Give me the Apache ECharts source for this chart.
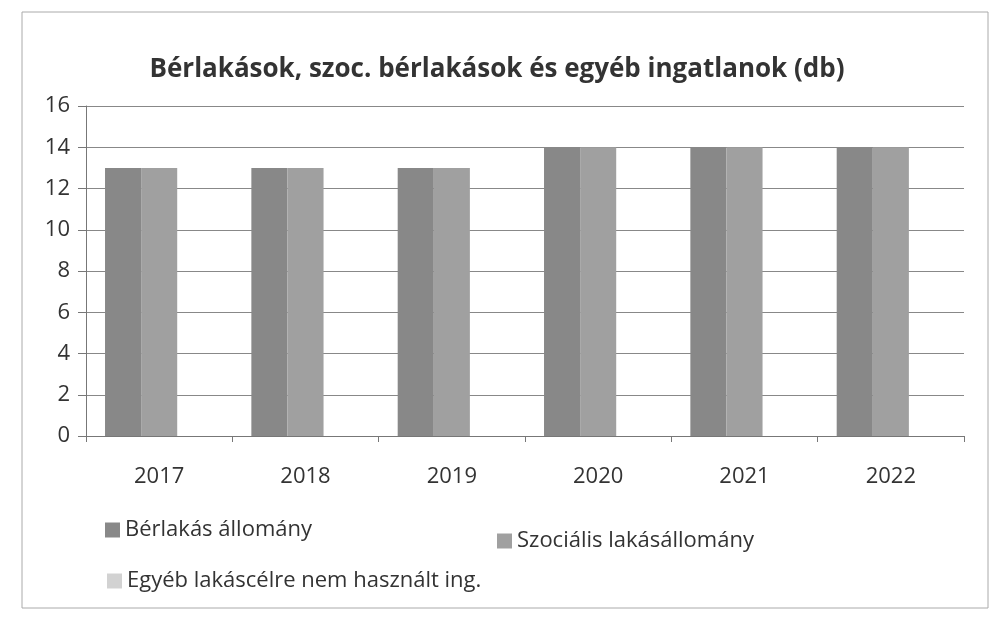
<!DOCTYPE html>
<html>
<head>
<meta charset="utf-8">
<script src="https://cdn.jsdelivr.net/npm/echarts@6/dist/echarts.min.js"></script>
<style>
  html, body { margin: 0; padding: 0; background: #fff; }
  #chart { width: 994px; height: 621px; }
</style>
</head>
<body>
<div id="chart"></div>
<script>
// adatok
const years = ['2017', '2018', '2019', '2020', '2021', '2022'];
const berlakas = [13, 13, 13, 14, 14, 14];
const szocialis = [13, 13, 13, 14, 14, 14];
const egyeb = [0, 0, 0, 0, 0, 0];
const seriesNames = ['Bérlakás állomány', 'Szociális lakásállomány', 'Egyéb lakáscélre nem használt ing.'];

const font = '"Open Sans", "Noto Sans", sans-serif';
const chart = echarts.init(document.getElementById('chart'));

const legendText = { fontSize: 22, color: '#333', fontFamily: font };

chart.setOption({
  backgroundColor: '#fff',
  color: ['#888888', '#a0a0a0', '#d2d2d2'],
  title: {
    text: 'Bérlakások, szoc. bérlakások és egyéb ingatlanok (db)',
    left: 'center',
    top: 52,
    textStyle: { fontSize: 26, fontWeight: 'bold', color: '#333', fontFamily: font }
  },
  // három külön jelmagyarázat, hogy a sorok a mintához igazodjanak
  legend: [
    { data: [seriesNames[0]], left: 100, top: 514, itemWidth: 15, itemHeight: 15, itemGap: 6, icon: 'rect', textStyle: legendText },
    { data: [seriesNames[1]], left: 492, top: 525, itemWidth: 15, itemHeight: 15, icon: 'rect', textStyle: legendText },
    { data: [seriesNames[2]], left: 102, top: 565, itemWidth: 15, itemHeight: 15, icon: 'rect', textStyle: legendText }
  ],
  grid: { left: 86, right: 30, top: 106, bottom: 185 },
  xAxis: {
    type: 'category',
    data: years,
    axisLine: { lineStyle: { color: '#777' } },
    axisTick: { show: true, length: 6, lineStyle: { color: '#777' } },
    axisLabel: { fontSize: 22, color: '#333', fontFamily: font, margin: 30 }
  },
  yAxis: {
    type: 'value',
    min: 0,
    max: 16,
    interval: 2,
    axisLine: { show: true, lineStyle: { color: '#777' } },
    axisTick: { show: true, length: 8, inside: false, lineStyle: { color: '#777' } },
    axisLabel: { fontSize: 22, color: '#333', fontFamily: font, margin: 16 },
    splitLine: { lineStyle: { color: '#888', width: 1 } }
  },
  series: [
    { name: seriesNames[0], type: 'bar', data: berlakas, barGap: '0%', barCategoryGap: '26%' },
    { name: seriesNames[1], type: 'bar', data: szocialis },
    { name: seriesNames[2], type: 'bar', data: egyeb }
  ],
  graphic: [
    {
      type: 'rect',
      shape: { x: 22, y: 12, width: 966, height: 596 },
      style: { fill: 'none', stroke: '#aaa', lineWidth: 1 },
      silent: true,
      z: -1
    }
  ]
});
</script>
</body>
</html>
